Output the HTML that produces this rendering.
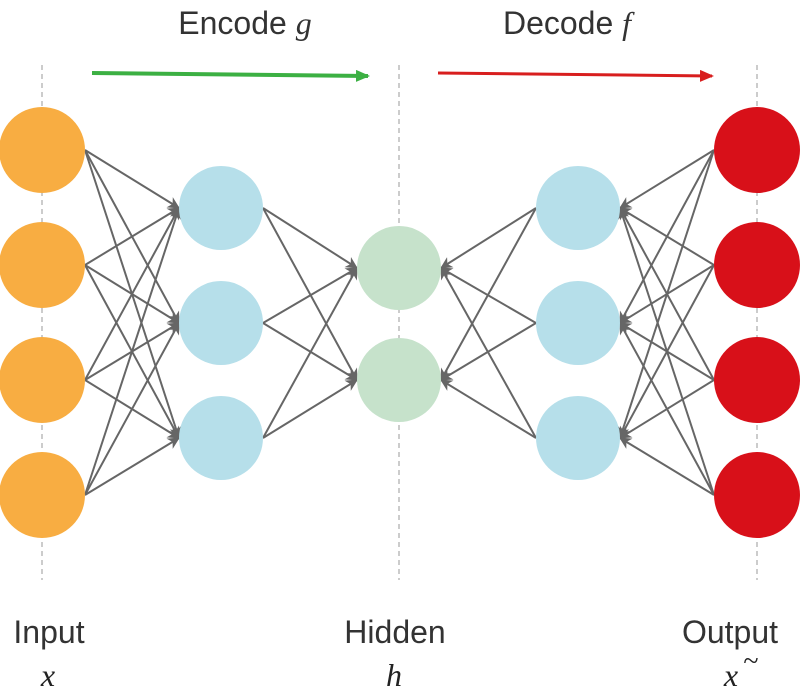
<!DOCTYPE html>
<html><head><meta charset="utf-8"><style>html,body{margin:0;padding:0;background:#fff;width:800px;height:700px;overflow:hidden}</style></head>
<body>
<svg id="s" width="800" height="700" viewBox="0 0 800 700" xmlns="http://www.w3.org/2000/svg">
<defs>
<marker id="ah" markerWidth="12" markerHeight="12" refX="11" refY="6" orient="auto" markerUnits="userSpaceOnUse"><path d="M0,0 L12,6 L0,12 L3.5,6 z" fill="#666"/></marker>
<marker id="ag" markerWidth="14" markerHeight="12" refX="12" refY="6" orient="auto" markerUnits="userSpaceOnUse"><path d="M0,0 L14,6 L0,12 z" fill="#3cb043"/></marker>
<marker id="ar" markerWidth="14" markerHeight="12" refX="12" refY="6" orient="auto" markerUnits="userSpaceOnUse"><path d="M0,0 L14,6 L0,12 z" fill="#d81e1e"/></marker>
</defs>
<g stroke="#999" stroke-width="1" stroke-dasharray="5,4">
<line x1="42" y1="65" x2="42" y2="580"/><line x1="399" y1="65" x2="399" y2="580"/><line x1="757" y1="65" x2="757" y2="580"/>
</g>
<line x1="92" y1="73" x2="368" y2="76" stroke="#3cb043" stroke-width="4" marker-end="url(#ag)"/>
<line x1="438" y1="73" x2="712" y2="76" stroke="#d81e1e" stroke-width="3" marker-end="url(#ar)"/>
<g id="edges" stroke="#666" stroke-width="2"></g>
<g id="nodes"></g>
<g font-family="'Liberation Sans Narrow','Liberation Sans',sans-serif" font-size="32" fill="#333" text-anchor="middle">
<text x="245" y="34">Encode <tspan font-family="'Liberation Serif',serif" font-style="italic">g</tspan></text>
<text x="567" y="34">Decode <tspan font-family="'Liberation Serif',serif" font-style="italic">f</tspan></text>
<text x="49" y="643">Input</text>
<text x="395" y="643">Hidden</text>
<text x="730" y="643">Output</text>
</g>
<g font-family="'Liberation Serif',serif" font-style="italic" font-size="32" fill="#222" text-anchor="middle">
<text x="48" y="686">x</text><text x="394" y="686">h</text><text x="731" y="686">x</text><text x="751" y="670" font-style="normal" font-size="28">~</text>
</g>
</svg>
<script>
var NS="http://www.w3.org/2000/svg";
var L=[{x:42,ys:[150,265,380,495],r:43,c:"#f8ad42"},{x:221,ys:[208,323,438],r:42,c:"#b6dfea"},{x:399,ys:[268,380],r:42,c:"#c6e2cb"},{x:578,ys:[208,323,438],r:42,c:"#b6dfea"},{x:757,ys:[150,265,380,495],r:43,c:"#d81019"}];
var E=document.getElementById("edges"),N=document.getElementById("nodes");
function ln(x1,y1,x2,y2){var l=document.createElementNS(NS,"line");l.setAttribute("x1",x1);l.setAttribute("y1",y1);l.setAttribute("x2",x2);l.setAttribute("y2",y2);l.setAttribute("marker-end","url(#ah)");E.appendChild(l);}
for(var i=0;i<4;i++){var a=L[i],b=L[i+1];
a.ys.forEach(function(ya){b.ys.forEach(function(yb){
if(i<2)ln(a.x+a.r,ya,b.x-b.r,yb);else ln(b.x-b.r,yb,a.x+a.r,ya);});});}
L.forEach(function(l){l.ys.forEach(function(y){var c=document.createElementNS(NS,"circle");c.setAttribute("cx",l.x);c.setAttribute("cy",y);c.setAttribute("r",l.r);c.setAttribute("fill",l.c);N.appendChild(c);});});
</script>
</body></html>
